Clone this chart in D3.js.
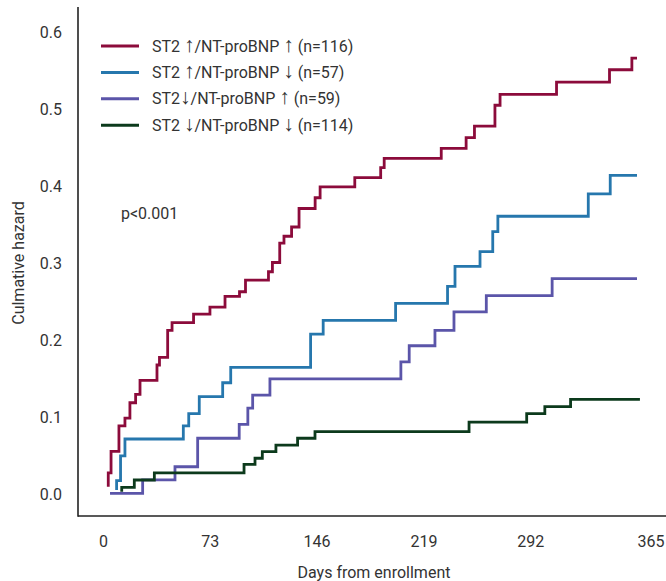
<!DOCTYPE html>
<html><head><meta charset="utf-8">
<script src="https://cdn.jsdelivr.net/npm/d3@7"></script>
<style>
html,body{margin:0;padding:0;background:#fff;}
text{font-family:Roboto,"Noto Sans",sans-serif;fill:#333;}
</style></head>
<body>
<svg id="c" width="666" height="581"></svg>
<script>
// ---- data ----
const xTicks = [0, 73, 146, 219, 292, 365];
const yTicks = [0, 0.1, 0.2, 0.3, 0.4, 0.5, 0.6];
const seriesNames = [
  "ST2 \u2191/NT-proBNP \u2191 (n=116)",
  "ST2 \u2191/NT-proBNP \u2193 (n=57)",
  "ST2\u2193/NT-proBNP \u2191 (n=59)",
  "ST2 \u2193/NT-proBNP \u2193 (n=114)"
];
const seriesColors = ["#8c0b3b", "#2677ad", "#5b55a9", "#0c3a1c"];
const highHigh = [[3.6,0.010],[3.6,0.028],[5.5,0.056],[10.9,0.089],[15,0.099],[18.4,0.119],[22.3,0.130],[25.3,0.148],[36.9,0.168],[38.6,0.178],[44.2,0.213],[47.2,0.223],[61.9,0.234],[73.1,0.243],[83.4,0.257],[93.3,0.263],[97.4,0.278],[113.1,0.289],[115.8,0.301],[120.8,0.326],[123.7,0.335],[128.9,0.347],[134,0.371],[145,0.385],[148.4,0.399],[172.1,0.411],[189.8,0.424],[192.2,0.436],[231.2,0.449],[248.2,0.463],[253.9,0.478],[267.9,0.505],[271.4,0.519],[310,0.535],[346.2,0.551],[361.5,0.566],[365,0.566]];
const highLow = [[9.3,0.006],[9.3,0.018],[12,0.050],[15,0.072],[54.9,0.089],[58.6,0.105],[65.8,0.127],[81.8,0.145],[87.3,0.165],[141.9,0.208],[150.5,0.226],[200,0.248],[235.5,0.270],[240.6,0.296],[257.7,0.315],[266.4,0.341],[269.9,0.361],[331.7,0.390],[346.7,0.414],[365,0.414]];
const lowHigh = [[4.8,0.0015],[27.1,0.019],[49.2,0.036],[64.7,0.073],[93.1,0.091],[99,0.112],[102.3,0.129],[114.1,0.150],[203.6,0.172],[209.3,0.193],[226.9,0.213],[239.9,0.237],[262,0.258],[307,0.280],[365,0.280]];
const lowLow = [[12.8,0.0036],[12.8,0.0093],[21.4,0.0188],[35.1,0.028],[96.4,0.039],[103.9,0.047],[108.9,0.0555],[118.2,0.064],[133,0.073],[144.9,0.0815],[250.2,0.094],[289.6,0.105],[302,0.114],[319.6,0.1235],[367,0.1235]];
const seriesData = [highHigh, highLow, lowHigh, lowLow];

// ---- chart ----
const svg = d3.select("#c");
const x = d3.scaleLinear().domain([0, 365]).range([103, 637]);
const y = d3.scaleLinear().domain([0, 0.6]).range([494.5, 32]);
const axisX0 = 78, axisY0 = 516;

svg.append("line").attr("x1", axisX0).attr("x2", axisX0).attr("y1", 7).attr("y2", axisY0 + 0.75)
  .attr("stroke", "#222").attr("stroke-width", 1.6);
svg.append("line").attr("x1", axisX0).attr("x2", 666).attr("y1", axisY0).attr("y2", axisY0)
  .attr("stroke", "#222").attr("stroke-width", 1.6);

const gy = svg.append("g").attr("transform", `translate(${axisX0},0)`)
  .call(d3.axisLeft(y).tickValues(yTicks).tickFormat(d3.format(".1f")).tickSize(0).tickPadding(16));
const gx = svg.append("g").attr("transform", `translate(0,${axisY0})`)
  .call(d3.axisBottom(x).tickValues(xTicks).tickFormat(d3.format("d")).tickSize(0).tickPadding(20));
[gx, gy].forEach(g => {
  g.select(".domain").remove();
  g.selectAll("text").attr("font-size", 16).attr("fill", "#333").attr("font-family", "Roboto, sans-serif");
});
gx.selectAll(".tick text").filter(d => d === 365).attr("text-anchor", "start");

const line = d3.line().x(d => x(d[0])).y(d => y(d[1])).curve(d3.curveStepAfter);
seriesData.forEach((s, i) => {
  svg.append("path").datum(s).attr("d", line).attr("fill", "none")
    .attr("stroke", seriesColors[i]).attr("stroke-width", 2.8).attr("stroke-linejoin", "miter");
});

// legend
const lg = svg.append("g");
seriesNames.forEach((n, i) => {
  const yy = 46 + i * 26.4;
  lg.append("line").attr("x1", 101).attr("x2", 139).attr("y1", yy).attr("y2", yy)
    .attr("stroke", seriesColors[i]).attr("stroke-width", 3);
  const t = lg.append("text").attr("x", 152).attr("y", yy).attr("dy", "0.35em").attr("font-size", 16);
  n.split(/([\u2191\u2193])/).forEach(part => {
    if (!part) return;
    const isArrow = part === "\u2191" || part === "\u2193";
    const ts = t.append("tspan").text(part);
    if (isArrow) ts.attr("font-family", "'Liberation Sans', sans-serif").attr("font-size", 21).attr("fill", "#333");
    else ts.attr("font-size", 16);
  });
});

svg.append("text").attr("x", 121).attr("y", 213).attr("dy", "0.35em").attr("font-size", 16).text("p<0.001");

svg.append("text").attr("x", 374).attr("y", 572).attr("dy", "0.35em").attr("text-anchor", "middle")
  .attr("font-size", 16).text("Days from enrollment");
svg.append("text").attr("transform", "translate(18,263) rotate(-90)").attr("dy", "0.35em")
  .attr("text-anchor", "middle").attr("font-size", 16).text("Culmative hazard");
</script>
</body></html>
